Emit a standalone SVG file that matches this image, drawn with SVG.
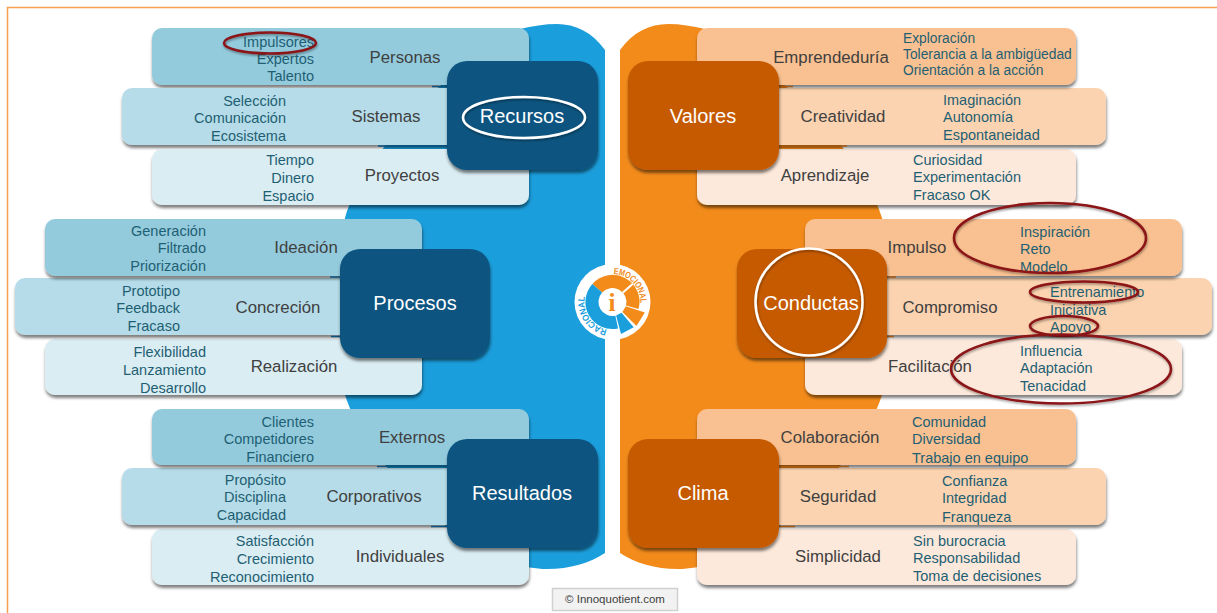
<svg xmlns="http://www.w3.org/2000/svg" width="1217" height="613" viewBox="0 0 1217 613">
<defs>
<filter id="sh" x="-10%" y="-20%" width="120%" height="150%"><feDropShadow dx="0.500" dy="3" stdDeviation="1.700" flood-color="#000" flood-opacity="0.5"/></filter>
<filter id="sl" x="-10%" y="-20%" width="120%" height="150%"><feDropShadow dx="0.500" dy="1.500" stdDeviation="1" flood-color="#000" flood-opacity="0.4"/></filter>
<path id="ringArc" d="M612.500 274A28 28 0 1 1 612.400 274"/>
</defs>
<style>
text{font-family:"Liberation Sans",Arial,sans-serif}
.card{filter:url(#sh)}
.b1{fill:#93CBDD}.b2{fill:#B5DCE8}.b3{fill:#DAEDF3}
.o1{fill:#F9C191}.o2{fill:#FBD3B0}.o3{fill:#FDE9DB}
.hb{fill:#0B5480;filter:url(#sh)}.ho{fill:#C55A06;filter:url(#sh)}
.lab{font-size:16.800px;fill:#404040;text-anchor:middle}
.it{font-size:14.500px;fill:#1F5F73}
.sm{font-size:13.800px}
.e{text-anchor:end}
.hd{font-size:20px;fill:#fff;text-anchor:middle}
.red{fill:none;stroke:#8B1219;stroke-width:2.500;filter:url(#sl)}
.wh{fill:none;stroke:#fff;stroke-width:2.500;filter:url(#sl)}
</style>
<rect width="1217" height="613" fill="#fff"/>
<path d="M1217 7.500H7.500V613" fill="none" stroke="#F7A050" stroke-width="1.500"/>
<path d="M605 50C592 32 575 24 557 24C545 24 532 26 520 29C440 70 362 160 345 218C338 245 338 360 345 395C362 450 440 540 510 562C525 567 535 569 547 569C570 569 590 563 605 553Z" fill="#1B9EDC"/>
<path d="M620 50C633 32 650 24 668 24C680 24 693 26 705 29C785 70 865 160 882 218C889 245 889 360 882 395C865 450 785 540 715 562C700 567 690 569 678 569C655 569 635 563 620 553Z" fill="#F38B1B"/>

<g id="personas"><rect class="card b1" x="152" y="28" width="377" height="57" rx="10"/><text class="lab" x="405" y="63">Personas</text><text class="it e" x="314" y="47">Impulsores</text><text class="it e" x="314" y="64">Expertos</text><text class="it e" x="314" y="81">Talento</text></g>
<g id="sistemas"><rect class="card b2" x="122" y="88" width="377" height="57" rx="10"/><text class="lab" x="386" y="122">Sistemas</text><text class="it e" x="286" y="106">Selección</text><text class="it e" x="286" y="123">Comunicación</text><text class="it e" x="286" y="141">Ecosistema</text></g>
<g id="proyectos"><rect class="card b3" x="152" y="149" width="377" height="56" rx="10"/><text class="lab" x="402" y="181">Proyectos</text><text class="it e" x="314" y="165">Tiempo</text><text class="it e" x="314" y="183">Dinero</text><text class="it e" x="314" y="201">Espacio</text></g>
<g id="realizacion"><rect class="card b3" x="45" y="339" width="377" height="56" rx="10"/><text class="lab" x="294" y="372">Realización</text><text class="it e" x="206" y="357">Flexibilidad</text><text class="it e" x="206" y="375">Lanzamiento</text><text class="it e" x="206" y="393">Desarrollo</text></g>
<g id="concrecion"><rect class="card b2" x="15" y="278" width="377" height="57" rx="10"/><text class="lab" x="278" y="313">Concreción</text><text class="it e" x="180" y="296">Prototipo</text><text class="it e" x="180" y="313">Feedback</text><text class="it e" x="180" y="331">Fracaso</text></g>
<g id="ideacion"><rect class="card b1" x="45" y="219" width="377" height="57" rx="10"/><text class="lab" x="306" y="253">Ideación</text><text class="it e" x="206" y="236">Generación</text><text class="it e" x="206" y="253">Filtrado</text><text class="it e" x="206" y="271">Priorización</text></g>
<g id="individuales"><rect class="card b3" x="152" y="529" width="377" height="56" rx="10"/><text class="lab" x="400" y="562">Individuales</text><text class="it e" x="314" y="546">Satisfacción</text><text class="it e" x="314" y="564">Crecimiento</text><text class="it e" x="314" y="582">Reconocimiento</text></g>
<g id="corporativos"><rect class="card b2" x="122" y="468" width="377" height="57" rx="10"/><text class="lab" x="374" y="502">Corporativos</text><text class="it e" x="286" y="485">Propósito</text><text class="it e" x="286" y="502">Disciplina</text><text class="it e" x="286" y="520">Capacidad</text></g>
<g id="externos"><rect class="card b1" x="152" y="409" width="377" height="56" rx="10"/><text class="lab" x="412" y="443">Externos</text><text class="it e" x="314" y="427">Clientes</text><text class="it e" x="314" y="444">Competidores</text><text class="it e" x="314" y="462">Financiero</text></g>

<g id="aprendizaje"><rect class="card o3" x="697" y="149" width="379" height="56" rx="10"/><text class="lab" x="825" y="181">Aprendizaje</text><text class="it" x="913" y="165">Curiosidad</text><text class="it" x="913" y="182">Experimentación</text><text class="it" x="913" y="200">Fracaso OK</text></g>
<g id="creatividad"><rect class="card o2" x="727" y="88" width="379" height="57" rx="10"/><text class="lab" x="843" y="122">Creatividad</text><text class="it" x="943" y="105">Imaginación</text><text class="it" x="943" y="122">Autonomía</text><text class="it" x="943" y="140">Espontaneidad</text></g>
<g id="emprendeduria"><rect class="card o1" x="697" y="28" width="379" height="57" rx="10"/><text class="lab" x="831" y="63">Emprendeduría</text><text class="it sm" x="903" y="43">Exploración</text><text class="it sm" x="903" y="59">Tolerancia a la ambigüedad</text><text class="it sm" x="903" y="75">Orientación a la acción</text></g>
<g id="facilitacion"><rect class="card o3" x="805" y="339" width="377" height="56" rx="10"/><text class="lab" x="930" y="372">Facilitación</text><text class="it" x="1020" y="356">Influencia</text><text class="it" x="1020" y="373">Adaptación</text><text class="it" x="1020" y="391">Tenacidad</text></g>
<g id="compromiso"><rect class="card o2" x="835" y="278" width="377" height="57" rx="10"/><text class="lab" x="950" y="313">Compromiso</text><text class="it" x="1050" y="297">Entrenamiento</text><text class="it" x="1050" y="315">Iniciativa</text><text class="it" x="1050" y="332">Apoyo</text></g>
<g id="impulso"><rect class="card o1" x="805" y="219" width="377" height="57" rx="10"/><text class="lab" x="917" y="253">Impulso</text><text class="it" x="1020" y="237">Inspiración</text><text class="it" x="1020" y="254">Reto</text><text class="it" x="1020" y="272">Modelo</text></g>
<g id="simplicidad"><rect class="card o3" x="697" y="529" width="379" height="56" rx="10"/><text class="lab" x="838" y="562">Simplicidad</text><text class="it" x="913" y="546">Sin burocracia</text><text class="it" x="913" y="563">Responsabilidad</text><text class="it" x="913" y="581">Toma de decisiones</text></g>
<g id="seguridad"><rect class="card o2" x="727" y="468" width="379" height="57" rx="10"/><text class="lab" x="838" y="502">Seguridad</text><text class="it" x="942" y="486">Confianza</text><text class="it" x="942" y="503">Integridad</text><text class="it" x="942" y="522">Franqueza</text></g>
<g id="colaboracion"><rect class="card o1" x="697" y="409" width="379" height="56" rx="10"/><text class="lab" x="830" y="443">Colaboración</text><text class="it" x="912" y="427">Comunidad</text><text class="it" x="912" y="444">Diversidad</text><text class="it" x="912" y="463">Trabajo en equipo</text></g>

<g id="connectors" fill="none" stroke-width="1.500">
<path d="M432 86.500H450M378 146H450M330 277H342M331 336.500H342M377 466.500H450M431 526.500H450" stroke="#0B5480"/>
<path d="M777 86.500H793M777 146H847M885 277H896M885 336.500H894M777 466.500H849M777 526.500H795" stroke="#A85A10"/>
</g>

<g id="recursos"><rect class="hb" x="447" y="61" width="151" height="109" rx="20"/><text class="hd" x="522" y="123">Recursos</text></g>
<g id="procesos"><rect class="hb" x="340" y="249" width="150" height="109" rx="20"/><text class="hd" x="415" y="310">Procesos</text></g>
<g id="resultados"><rect class="hb" x="447" y="439" width="151" height="109" rx="20"/><text class="hd" x="522" y="500">Resultados</text></g>
<g id="valores"><rect class="ho" x="628" y="61" width="151" height="109" rx="20"/><text class="hd" x="703" y="123">Valores</text></g>
<g id="conductas"><rect class="ho" x="737" y="249" width="150" height="109" rx="20"/><text class="hd" x="811" y="310">Conductas</text></g>
<g id="clima"><rect class="ho" x="628" y="439" width="151" height="109" rx="20"/><text class="hd" x="703" y="500">Clima</text></g>

<g id="highlights">
<ellipse class="red" cx="270" cy="43" rx="46" ry="10.500"/>
<ellipse class="wh" cx="524" cy="117.500" rx="61" ry="20.500"/>
<circle class="wh" cx="809" cy="302" r="53.500"/>
<ellipse class="red" cx="1050" cy="238" rx="96" ry="35"/>
<ellipse class="red" cx="1084" cy="292" rx="54" ry="10.500"/>
<ellipse class="red" cx="1064" cy="326" rx="34" ry="10"/>
<ellipse class="red" cx="1061" cy="369" rx="110" ry="34.500"/>
</g>

<g id="logo">
<circle cx="612.500" cy="302" r="38" fill="#fff"/>
<g transform="translate(2.500 0)">
<path d="M589.900 283.900A27 27 0 0 1 636.100 309L623.500 305.600A14 14 0 0 0 599.600 292.600Z" fill="#F38B1B"/>
<path d="M620.400 292.600L630.100 283.900" stroke="#fff" stroke-width="2"/>
<path d="M623.300 306.300L642.300 312.500L634 326L619.900 311.900Z" fill="#F38B1B"/>
<path d="M619 312.700L631.200 327.300L618.500 333.900L613.600 315.500Z" fill="#1B9EDC"/>
<path d="M615.600 328.400A27 27 0 0 1 589.900 283.900L599.600 292.600A14 14 0 0 0 612.900 315.700Z" fill="#1B9EDC"/>
</g>
<text font-size="9" font-weight="bold" fill="#F38B1B"><textPath href="#ringArc" startOffset="1" textLength="44" lengthAdjust="spacingAndGlyphs">EMOCIONAL</textPath></text>
<text font-size="9" font-weight="bold" fill="#1B9EDC"><textPath href="#ringArc" startOffset="93" textLength="44" lengthAdjust="spacingAndGlyphs">RACIONAL</textPath></text>
<text x="612" y="311" font-size="25" font-weight="bold" fill="#F38B1B" text-anchor="middle" style="font-family:'Liberation Serif',serif">i</text>
</g>

<g id="credit"><rect x="552.500" y="588.500" width="125" height="22" fill="#F2F2F2" stroke="#D0D0D0" stroke-width="1.500"/><text x="615" y="603" font-size="11.500" fill="#404040" text-anchor="middle">© Innoquotient.com</text></g>
</svg>
